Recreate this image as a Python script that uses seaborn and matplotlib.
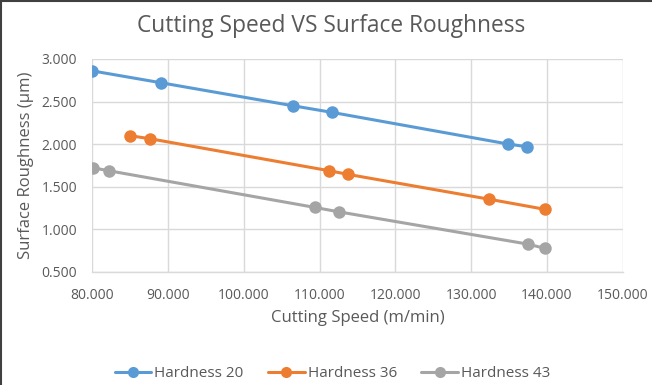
import matplotlib
matplotlib.use("Agg")
import matplotlib.pyplot as plt
from matplotlib.lines import Line2D
from matplotlib.ticker import FormatStrFormatter, MultipleLocator
import pandas as pd
import seaborn as sns

# Cutting speed (m/min) and surface roughness (µm) for three hardness levels
speed_h20 = [80.0, 89.1, 106.5, 111.6, 134.9, 137.4]
rough_h20 = [2.860, 2.720, 2.450, 2.373, 2.000, 1.968]

speed_h36 = [85.0, 87.6, 111.3, 113.8, 132.3, 139.8]
rough_h36 = [2.098, 2.063, 1.686, 1.643, 1.353, 1.232]

speed_h43 = [80.1, 82.2, 109.4, 112.5, 137.5, 139.8]
rough_h43 = [1.721, 1.686, 1.255, 1.204, 0.824, 0.773]

series_names = ["Hardness 20", "Hardness 36", "Hardness 43"]
series_colors = ["#5B9BD5", "#ED7D31", "#A5A5A5"]

frames = []
for name, xs, ys in zip(series_names,
                        [speed_h20, speed_h36, speed_h43],
                        [rough_h20, rough_h36, rough_h43]):
    frames.append(pd.DataFrame({"speed": xs, "rough": ys, "series": name}))
df = pd.concat(frames, ignore_index=True)

sns.set_theme(style="white")
plt.rcParams["font.family"] = ["Open Sans", "DejaVu Sans"]

fig = plt.figure(figsize=(6.52, 3.85), dpi=100)
ax = fig.add_axes([0.1416, 0.2943, 0.9550 - 0.1416, 0.8468 - 0.2943])

sns.lineplot(data=df, x="speed", y="rough", hue="series",
             palette=dict(zip(series_names, series_colors)),
             marker="o", markersize=9, markeredgewidth=0, linewidth=2.2,
             sort=False, ax=ax, legend=False, estimator=None)

ax.set_xlim(80, 150)
ax.set_ylim(0.5, 3.0)
ax.xaxis.set_major_locator(MultipleLocator(10))
ax.yaxis.set_major_locator(MultipleLocator(0.5))
ax.xaxis.set_major_formatter(FormatStrFormatter("%.3f"))
ax.yaxis.set_major_formatter(FormatStrFormatter("%.3f"))
ax.grid(True, color="#D9D9D9", linewidth=1.0)
ax.set_axisbelow(True)
for side in ["top", "right", "left"]:
    ax.spines[side].set_visible(False)
ax.spines["bottom"].set_color("#D9D9D9")
ax.spines["bottom"].set_linewidth(1.0)
ax.tick_params(axis="both", colors="#595959", labelsize=10, length=0)
ax.tick_params(axis="x", pad=12)
ax.tick_params(axis="y", pad=11)

ax.set_xlabel("Cutting Speed (m/min)", fontsize=12, color="#595959", labelpad=5)
ax.set_ylabel("Surface Roughness (µm)", fontsize=12, color="#595959", labelpad=5)

fig.text(0.508, 0.932, "Cutting Speed VS Surface Roughness", ha="center",
         va="center", fontsize=16.4, color="#595959")

handles = [Line2D([0], [0], color=c, marker="o", markersize=8, linewidth=2.2,
                  markeredgewidth=0) for c in series_colors]
fig.legend(handles, series_names, loc="center", bbox_to_anchor=(0.51, 0.03),
           ncol=3, frameon=False, fontsize=11, labelcolor="#595959",
           handlelength=2.4, handletextpad=0.2, columnspacing=1.6)

# chart frame along the left and top edges
fig.add_artist(Line2D([0.002, 0.002], [0, 1], transform=fig.transFigure,
                      color="#404040", linewidth=1.5))
fig.add_artist(Line2D([0, 1], [0.998, 0.998], transform=fig.transFigure,
                      color="#404040", linewidth=1.5))

fig.savefig("out.png", dpi=100)
